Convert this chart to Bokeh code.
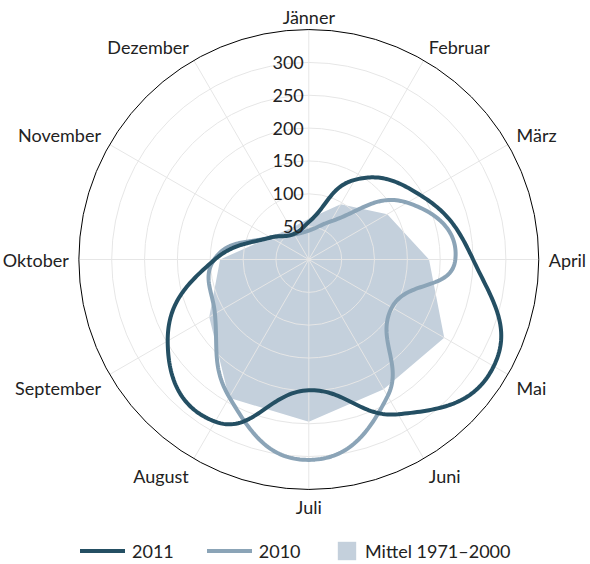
import numpy as np
from bokeh.plotting import figure
from bokeh.models import Range1d, Legend, LegendItem, ColumnDataSource
from bokeh.embed import file_html
from bokeh.resources import INLINE
from bokeh.core.properties import value

# ---- data ----
months = ["Jänner", "Februar", "März", "April", "Mai", "Juni", "Juli",
          "August", "September", "Oktober", "November", "Dezember"]
series_2011 = [57, 140, 196, 250, 325, 272, 199, 285, 248, 143, 67, 45]
series_2010 = [44, 67, 173, 223, 146, 240, 305, 242, 165, 144, 67, 44]
mittel_1971_2000 = [62, 97, 138, 183, 238, 228, 247, 243, 175, 135, 68, 55]
radial_ticks = [50, 100, 150, 200, 250, 300]
r_max = 350

# ---- style ----
C2011 = "#244f63"
C2010 = "#8ba4b7"
CAREA = "#c4d0dc"
CGRID = "#e6e6e6"
CTEXT = "#222222"
FONT = "Lato"
FS = "18px"

K = 0.657          # px per unit
W, H = 590, 564
cx, cy = 308.3, 259.0   # centre in frame px

p = figure(width=W, height=H, output_backend="svg", toolbar_location=None,
           x_range=Range1d(-cx / K, (W - cx) / K),
           y_range=Range1d(-(H - cy) / K, cy / K),
           x_axis_location=None, y_axis_location=None,
           min_border=0, outline_line_color=None)
p.grid.visible = False
p.background_fill_color = "white"

n = len(months)
theta = np.arange(n) * 2 * np.pi / n
sin_t, cos_t = np.sin(theta), np.cos(theta)


def polar_xy(vals):
    v = np.asarray(vals, dtype=float)
    return v * sin_t, v * cos_t


def polar_spline(vals, m=40):
    # Highcharts-style polar spline (smoothing 1.5), computed in screen-like coords
    v = np.asarray(vals, dtype=float)
    px = v * sin_t
    py = -v * cos_t
    lc, rc = [], []
    for i in range(n):
        x, y = px[i], py[i]
        lx, ly = px[i - 1], py[i - 1]
        nx, ny = px[(i + 1) % n], py[(i + 1) % n]
        lcx, lcy = (1.5 * x + lx) / 2.5, (1.5 * y + ly) / 2.5
        rcx, rcy = (1.5 * x + nx) / 2.5, (1.5 * y + ny) / 2.5
        dl = np.hypot(lcx - x, lcy - y)
        dr = np.hypot(rcx - x, rcy - y)
        la = np.arctan2(lcy - y, lcx - x)
        ra = np.arctan2(rcy - y, rcx - x)
        j = np.pi / 2 + (la + ra) / 2
        if abs(la - j) > np.pi / 2:
            j -= np.pi
        lc.append((x + np.cos(j) * dl, y + np.sin(j) * dl))
        rc.append((x + np.cos(j + np.pi) * dr, y + np.sin(j + np.pi) * dr))
    xs, ys = [], []
    t = np.linspace(0, 1, m)
    for i in range(n):
        k2 = (i + 1) % n
        P0 = np.array([px[i], py[i]])
        P1 = np.array(rc[i])
        P2 = np.array(lc[k2])
        P3 = np.array([px[k2], py[k2]])
        b = ((1 - t) ** 3)[:, None] * P0 + (3 * (1 - t) ** 2 * t)[:, None] * P1 \
            + (3 * (1 - t) * t ** 2)[:, None] * P2 + (t ** 3)[:, None] * P3
        xs.extend(b[:, 0])
        ys.extend(-b[:, 1])
    return xs, ys


# area (Mittel)
ax, ay = polar_xy(mittel_1971_2000)
r_area = p.patch(list(ax), list(ay), fill_color=CAREA, line_color=None)

# grid circles and spokes
p.circle(x=[0] * len(radial_ticks), y=[0] * len(radial_ticks), radius=radial_ticks,
         fill_color=None, line_color=CGRID, line_width=1)
p.segment(x0=[0] * n, y0=[0] * n, x1=list(r_max * sin_t), y1=list(r_max * cos_t),
          line_color=CGRID, line_width=1)

# series lines
x10, y10 = polar_spline(series_2010)
r2010 = p.line(x10, y10, line_color=C2010, line_width=4, line_join="round", line_cap="round")
x11, y11 = polar_spline(series_2011)
r2011 = p.line(x11, y11, line_color=C2011, line_width=4, line_join="round", line_cap="round")

# outer circle
p.circle(x=[0], y=[0], radius=[r_max], fill_color=None, line_color="black", line_width=1)

# radial tick labels
p.text(x=[0] * len(radial_ticks), y=radial_ticks, text=[str(t) for t in radial_ticks],
       x_offset=-5, text_align="right", text_baseline="middle",
       text_font=value(FONT), text_font_size=FS, text_color=CTEXT)

# month labels
aligns, xo, yo = [], [], []
for s, c in zip(sin_t, cos_t):
    if s > 0.1:
        aligns.append("left")
    elif s < -0.1:
        aligns.append("right")
    else:
        aligns.append("center")
    xo.append(10 * s)
    if c > 0.99:
        vs = -3
    elif c > 0.1:
        vs = -5
    elif c < -0.99:
        vs = 8
    elif c < -0.1:
        vs = 9
    else:
        vs = 0
    yo.append(-10 * c + vs)
lab_src = ColumnDataSource(dict(x=list(r_max * sin_t), y=list(r_max * cos_t), text=months,
                                align=aligns, xo=xo, yo=yo))
p.text(x="x", y="y", text="text", source=lab_src, x_offset="xo", y_offset="yo",
       text_align="align", text_baseline="middle",
       text_font=value(FONT), text_font_size=FS, text_color=CTEXT)

# legends
common = dict(orientation="horizontal", padding=0, margin=0, border_line_color=None,
              background_fill_alpha=0, label_text_font=FONT, label_text_font_size=FS,
              label_text_color=CTEXT, glyph_height=23, label_standoff=7, spacing=33)
leg1 = Legend(items=[LegendItem(label="2011", renderers=[r2011]),
                     LegendItem(label="2010", renderers=[r2010])],
              location=(80, 2), glyph_width=45, **common)
leg2 = Legend(items=[LegendItem(label="Mittel 1971–2000", renderers=[r_area])],
              location=(335, 2), glyph_width=23, **common)
p.add_layout(leg1)
p.add_layout(leg2)

open("out.html", "w").write(file_html(p, INLINE))
